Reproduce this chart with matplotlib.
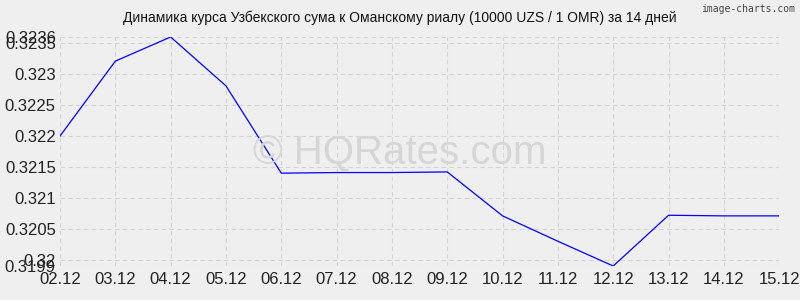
import matplotlib
matplotlib.use('Agg')
import matplotlib.pyplot as plt

plt.rcParams['font.family'] = ['Liberation Sans', 'DejaVu Sans']

# данные
dates = ['02.12', '03.12', '04.12', '05.12', '06.12', '07.12', '08.12',
         '09.12', '10.12', '11.12', '12.12', '13.12', '14.12', '15.12']
rates = [0.3220, 0.32321, 0.3236, 0.32281, 0.32140, 0.32141, 0.32141,
         0.32142, 0.32071, 0.32030, 0.3199, 0.32072, 0.32071, 0.32071]
y_ticks = [0.3199, 0.32, 0.3205, 0.321, 0.3215, 0.322, 0.3225, 0.323, 0.3235, 0.3236]
y_labels = ['0.3199', '0.32', '0.3205', '0.321', '0.3215', '0.322', '0.3225', '0.323', '0.3235', '0.3236']

bg = '#efefef'
fig = plt.figure(figsize=(8, 3), dpi=100, facecolor=bg)
ax = fig.add_axes([0.075, 0.1133, 0.899, 0.7634], facecolor=bg)

x = list(range(len(dates)))
ax.plot(x, rates, color='#0000ff', lw=0.9, zorder=3)

ax.set_xlim(0, len(dates) - 1)
ax.set_ylim(y_ticks[0], y_ticks[-1])
ax.set_xticks(x)
ax.set_xticklabels(dates)
ax.set_yticks(y_ticks)
ax.set_yticklabels(y_labels)
ax.tick_params(length=0, labelsize=12, colors='#222222', pad=4)
ax.tick_params(axis='y', pad=3)
for s in ax.spines.values():
    s.set_visible(False)
ax.grid(True, color='#d4d4d4', ls=(0, (4, 3)), lw=0.8)

fig.text(0.5, 0.94, 'Динамика курса Узбекского сума к Оманскому риалу (10000 UZS / 1 OMR) за 14 дней',
         ha='center', va='center', fontsize=10, color='#111111')
fig.text(0.5, 0.49, '© HQRates.com', ha='center', va='center', fontsize=29,
         color='#d6d6d6', zorder=0)
fig.text(0.994, 0.985, 'image-charts.com', ha='right', va='top', fontsize=7,
         family='DejaVu Sans Mono', color='#444444')

fig.savefig('out.png', dpi=100, facecolor=bg)
